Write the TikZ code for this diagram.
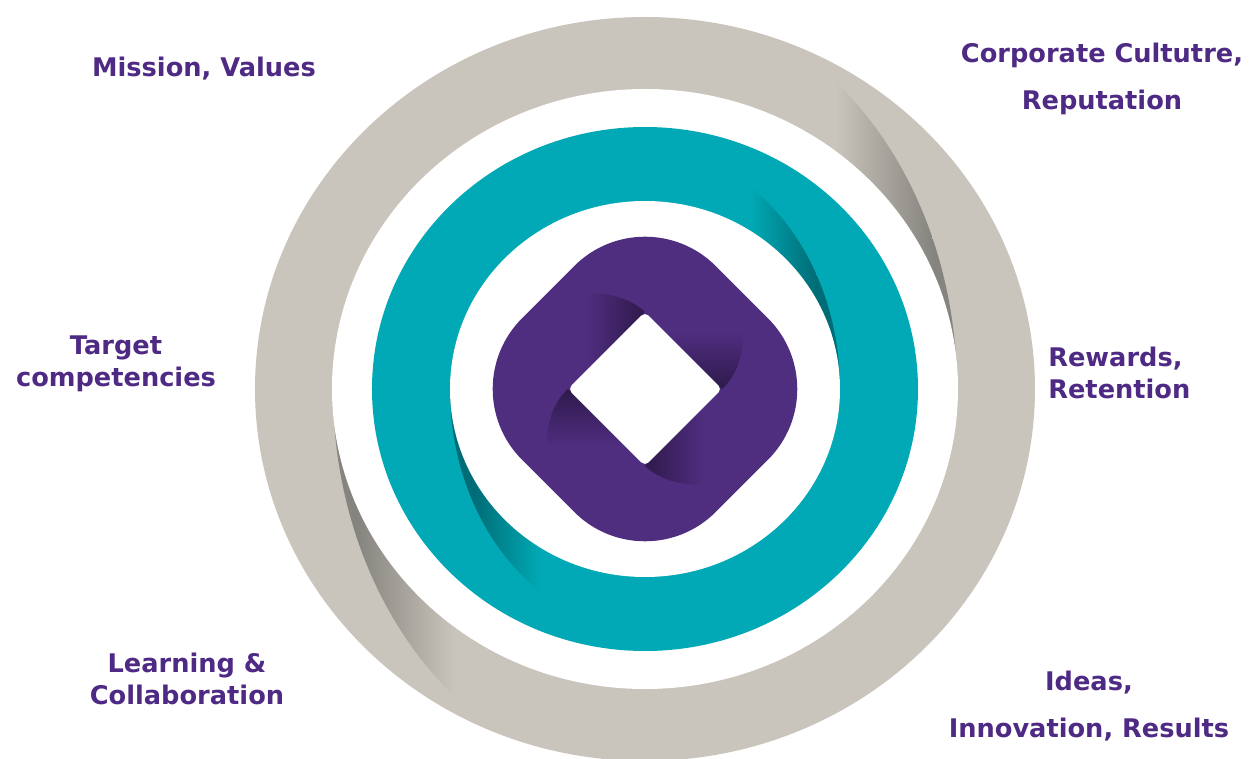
\documentclass[tikz,border=0pt]{standalone}
\usepackage{fontspec}
\setmainfont{DejaVu Sans}
\usepackage{xcolor}
\usepackage{tikz}
\usetikzlibrary{positioning,calc}

\definecolor{ringgray}{HTML}{CAC5BC}
\definecolor{ringdark}{HTML}{86847F}
\definecolor{tealband}{HTML}{00A9B5}
\definecolor{tealdark}{HTML}{006C75}
\definecolor{purpleband}{HTML}{4F2D7F}
\definecolor{purpledark}{HTML}{2E1A4B}
\definecolor{labelpurple}{HTML}{4F2A84}

\begin{document}
\begin{tikzpicture}[x=0.02cm, y=0.02cm,
    lbl/.style={text=labelpurple, font=\fontsize{14.6}{18.1}\selectfont\bfseries, align=center, inner sep=0pt}]
    \useasboundingbox (-645,-369) rectangle (607,389);

    % Gray outer ring
    \fill[ringgray] (0,0) ellipse [x radius=390, y radius=372];
    \foreach \s/\ca/\cb in {1/ringgray/ringdark, -1/ringdark/ringgray}{
        \begin{scope}
            \clip ({\s*140},0) rectangle ({\s*330},{\s*400});
            \clip (0,0) ellipse [x radius=312, y radius=388];
            \shade[left color=\ca, right color=\cb] ({\s*190},0) rectangle ({\s*288},{\s*400});
            \fill[ringdark] ({\s*288},0) rectangle ({\s*330},{\s*400});
        \end{scope}
    }
    \fill[white] (0,0) ellipse [x radius=313, y radius=300];

    % Teal ring
    \fill[tealband] (0,0) ellipse [x radius=273, y radius=262];
    \foreach \s/\ca/\cb in {1/tealband/tealdark, -1/tealdark/tealband}{
        \begin{scope}
            \clip ({\s*90},0) rectangle ({\s*200},{\s*300});
            \clip (0,0) ellipse [x radius=195, y radius=240];
            \shade[left color=\ca, right color=\cb] ({\s*105},0) rectangle ({\s*172},{\s*300});
            \fill[tealdark] ({\s*172},0) rectangle ({\s*200},{\s*300});
        \end{scope}
    }
    \fill[white] (0,0) ellipse [x radius=195, y radius=188];

    % Purple rounded diamond
    \fill[purpleband, rounded corners=2cm] (0,193.7) -- (-193.7,0) -- (0,-193.7) -- (193.7,0) -- cycle;
    \foreach \s/\ca/\cb in {1/purpleband/purpledark, -1/purpledark/purpleband}{
        \shade[left color=\ca, right color=\cb] ({\s*(-58)},{\s*96}) .. controls ({\s*(-30)},{\s*96}) and ({\s*(-12)},{\s*88}) .. (0,{\s*77}) -- ({\s*(-58)},{\s*19}) -- cycle;
        \shade[top color=\ca, bottom color=\cb] ({\s*98},{\s*56}) .. controls ({\s*98},{\s*30}) and ({\s*90},{\s*12}) .. ({\s*77},0) -- ({\s*21},{\s*56}) -- cycle;
    }
    \fill[white, rounded corners=0.1cm] (0,77) -- (-77,0) -- (0,-77) -- (77,0) -- cycle;

    % Labels
    \node[lbl] (mission) at (-441,320) {Mission, Values};
    \node[lbl] (culture) at (457,310) {Corporate Cultutre,\\[8.5pt]Reputation};
    \node[lbl] (target) at (-529,25) {Target\\competencies};
    \node[lbl, anchor=west, align=left] (rewards) at (403,16) {Rewards,\\Retention};
    \node[lbl] (learning) at (-458,-290) {Learning \&\\Collaboration};
    \node[lbl] (ideas) at (444,-317) {Ideas,\\[8.5pt]Innovation, Results};
\end{tikzpicture}
\end{document}
